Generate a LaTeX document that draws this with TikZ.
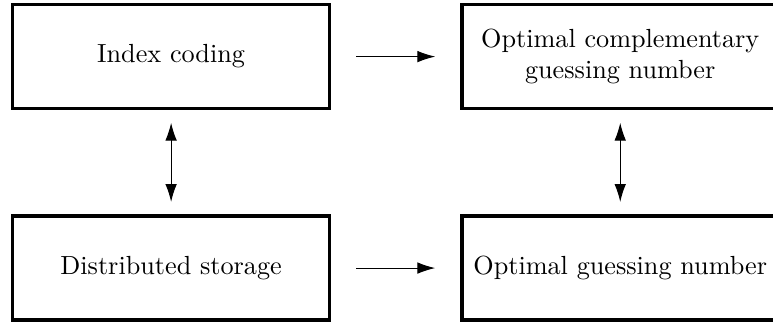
\documentclass[tikz,border=0pt]{standalone}
\usepackage{tikz}
\usetikzlibrary{positioning, arrows.meta}

\begin{document}
\begin{tikzpicture}[
    box/.style={draw, line width=1.4pt, minimum height=39.7pt, minimum width=121pt, align=center},
    arrow/.style={-{Latex[length=6.8pt, width=4.4pt]}, shorten <=9.4pt, shorten >=9.4pt},
    biarrow/.style={{Latex[length=6.8pt, width=4.4pt]}-{Latex[length=6.8pt, width=4.4pt]}, shorten <=4.7pt, shorten >=4.7pt}
]
\useasboundingbox (0,0) rectangle (295pt,-122.9pt);
\node[box] (index) at (65.3pt,-21.6pt) {Index coding};
\node[box, right=49pt of index] (compl) {Optimal complementary\\guessing number};
\node[box, below=39.6pt of index] (storage) {Distributed storage};
\node[box, below=39.6pt of compl] (guess) {Optimal guessing number};

\draw[arrow] (index) -- (compl);
\draw[arrow] (storage) -- (guess);
\draw[biarrow] (index) -- (storage);
\draw[biarrow] (compl) -- (guess);
\end{tikzpicture}
\end{document}
